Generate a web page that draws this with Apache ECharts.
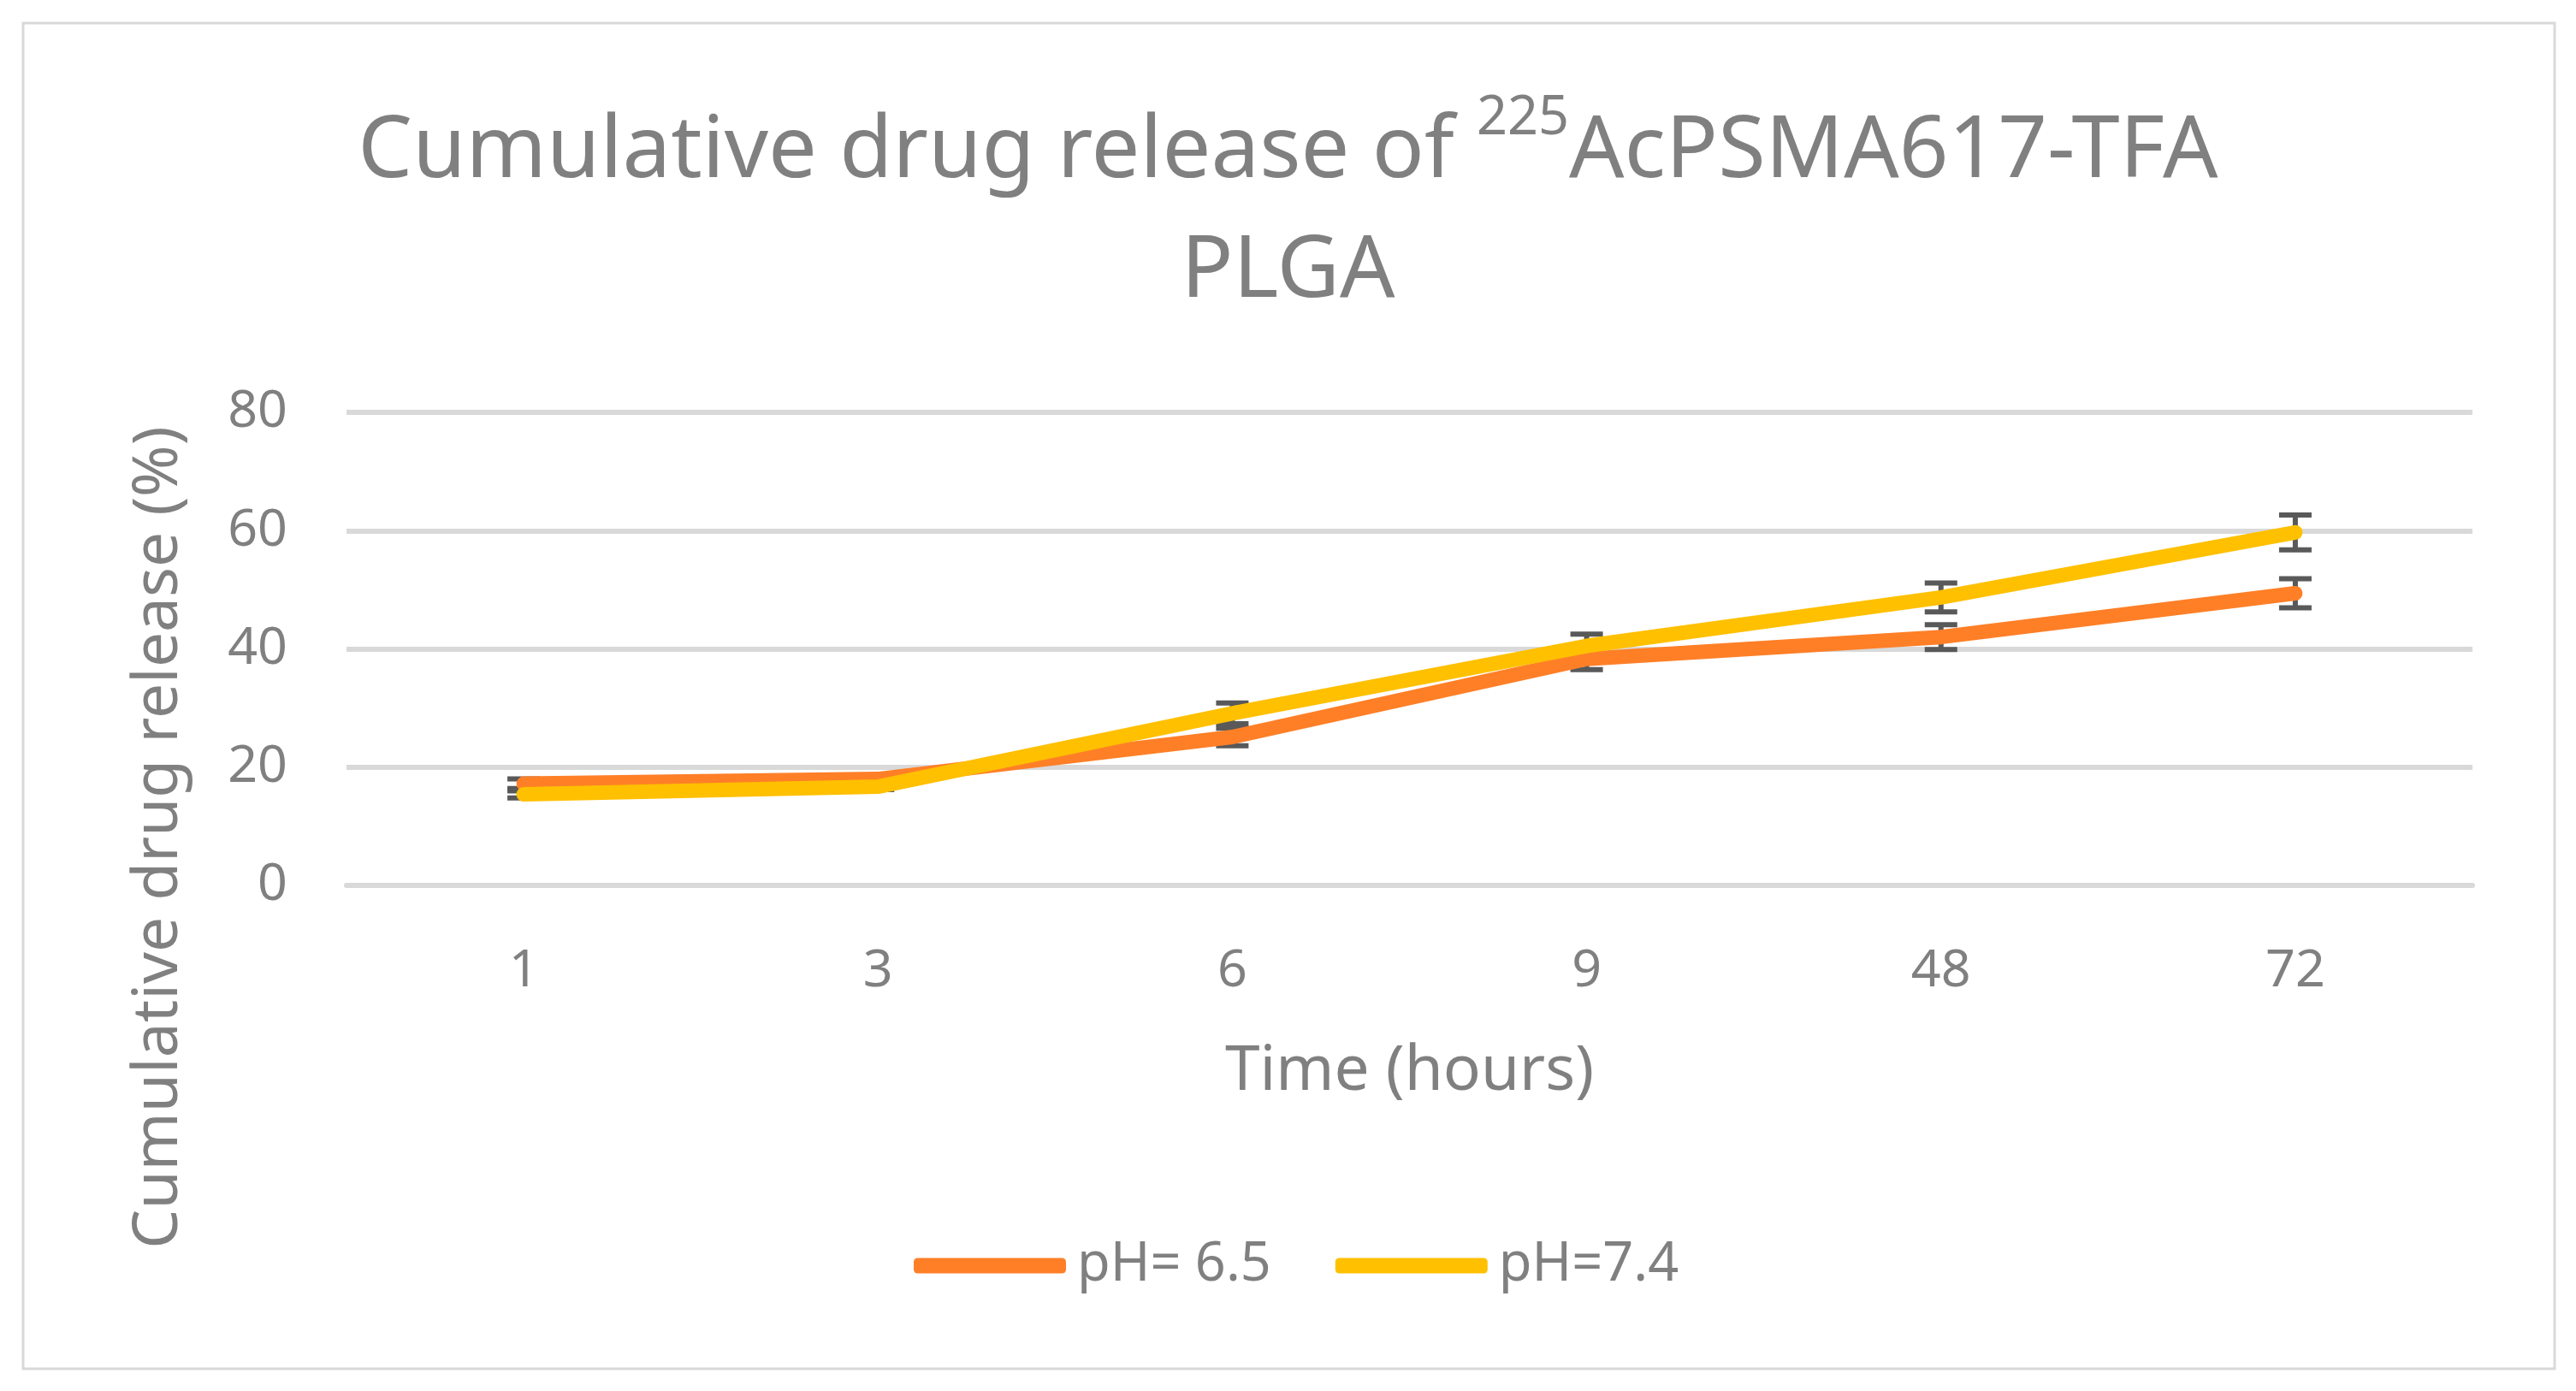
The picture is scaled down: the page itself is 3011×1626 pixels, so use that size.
<!DOCTYPE html>
<html lang="en">
<head>
    <meta charset="UTF-8">
    <title>Cumulative drug release</title>
    <script src="https://cdn.jsdelivr.net/npm/echarts@6/dist/echarts.min.js"></script>
    <style>
        html, body { margin: 0; padding: 0; background: #fff; }
    </style>
</head>
<body>
    <div id="main" style="width: 3011px;height:1626px;"></div>
</body>
    <script type="text/javascript">
        // data
        var hours = ['1', '3', '6', '9', '48', '72'];
        var ph65 = [17.2, 18.0, 25.1, 38.3, 42.0, 49.4];
        var ph65Err = [0.8, 0.5, 1.5, 1.8, 2.1, 2.45];
        var ph74 = [15.4, 16.7, 29.1, 40.5, 48.7, 59.7];
        var ph74Err = [0.6, 0.5, 1.75, 2.0, 2.45, 2.95];

        var grey = '#808080';
        var font = 'Noto Sans';

        function errData(vals, errs) {
            return vals.map(function (v, i) {
                return [i, v - errs[i], v + errs[i]];
            });
        }

        // vertical error bar with caps
        function renderErr(params, api) {
            var lo = api.coord([api.value(0), api.value(1)]);
            var hi = api.coord([api.value(0), api.value(2)]);
            var w = 19;
            var st = { stroke: '#595959', lineWidth: 6 };
            return {
                type: 'group',
                children: [
                    { type: 'line', shape: { x1: lo[0], y1: lo[1], x2: hi[0], y2: hi[1] }, style: st },
                    { type: 'line', shape: { x1: lo[0] - w, y1: lo[1], x2: lo[0] + w, y2: lo[1] }, style: st },
                    { type: 'line', shape: { x1: hi[0] - w, y1: hi[1], x2: hi[0] + w, y2: hi[1] }, style: st }
                ]
            };
        }

        var myChart = echarts.init(document.getElementById('main'));

        var option = {
            backgroundColor: '#fff',
            animation: false,
            title: {
                left: 'center',
                top: 103,
                text: '{a|Cumulative drug release of }{sup|225}{a|AcPSMA617-TFA}\n{a|PLGA}',
                textStyle: {
                    fontWeight: 'normal',
                    rich: {
                        a: { fontFamily: font, fontSize: 101, fontWeight: 'normal', color: grey, lineHeight: 140 },
                        sup: { fontFamily: font, fontSize: 63, fontWeight: 'normal', color: grey, lineHeight: 110, verticalAlign: 'top' }
                    }
                }
            },
            graphic: [
                {
                    type: 'rect',
                    shape: { x: 27, y: 27, width: 2959, height: 1573 },
                    style: { fill: null, stroke: '#d9d9d9', lineWidth: 3 }
                },
                {
                    type: 'text',
                    x: 186,
                    y: 979,
                    rotation: Math.PI / 2,
                    style: {
                        text: 'Cumulative drug release (%)',
                        fontFamily: font,
                        fontSize: 73,
                        fill: grey,
                        align: 'center',
                        verticalAlign: 'middle'
                    }
                }
            ],
            legend: {
                left: 1063,
                top: 1443,
                itemWidth: 178,
                itemHeight: 18,
                itemGap: 75,
                icon: 'roundRect',
                textStyle: { fontFamily: font, fontSize: 63, color: grey, padding: [0, 0, 0, 8] },
                data: ['pH= 6.5', 'pH=7.4']
            },
            grid: {
                left: 405,
                right: 121,
                top: 482,
                bottom: 591
            },
            xAxis: {
                type: 'category',
                data: hours,
                boundaryGap: true,
                name: 'Time (hours)',
                nameLocation: 'middle',
                nameGap: 182,
                nameTextStyle: { fontFamily: font, fontSize: 73, color: grey },
                axisLine: { lineStyle: { color: '#d9d9d9', width: 6 } },
                axisTick: { show: false },
                axisLabel: { fontFamily: font, fontSize: 61, color: grey, margin: 70 }
            },
            yAxis: {
                type: 'value',
                min: 0,
                max: 80,
                interval: 20,
                axisLine: { show: false },
                axisTick: { show: false },
                axisLabel: { fontFamily: font, fontSize: 61, color: grey, margin: 69 },
                splitLine: { lineStyle: { color: '#d9d9d9', width: 6 } }
            },
            series: [
                {
                    type: 'custom',
                    name: 'err65',
                    renderItem: renderErr,
                    data: errData(ph65, ph65Err),
                    z: 1,
                    silent: true
                },
                {
                    type: 'custom',
                    name: 'err74',
                    renderItem: renderErr,
                    data: errData(ph74, ph74Err),
                    z: 1,
                    silent: true
                },
                {
                    name: 'pH= 6.5',
                    type: 'line',
                    data: ph65,
                    showSymbol: false,
                    symbol: 'none',
                    color: '#FF7F27',
                    lineStyle: { width: 17, cap: 'round', join: 'round' },
                    z: 3
                },
                {
                    name: 'pH=7.4',
                    type: 'line',
                    data: ph74,
                    showSymbol: false,
                    symbol: 'none',
                    color: '#FFC000',
                    lineStyle: { width: 17, cap: 'round', join: 'round' },
                    z: 4
                }
            ]
        };

        myChart.setOption(option);
    </script>
</html>
